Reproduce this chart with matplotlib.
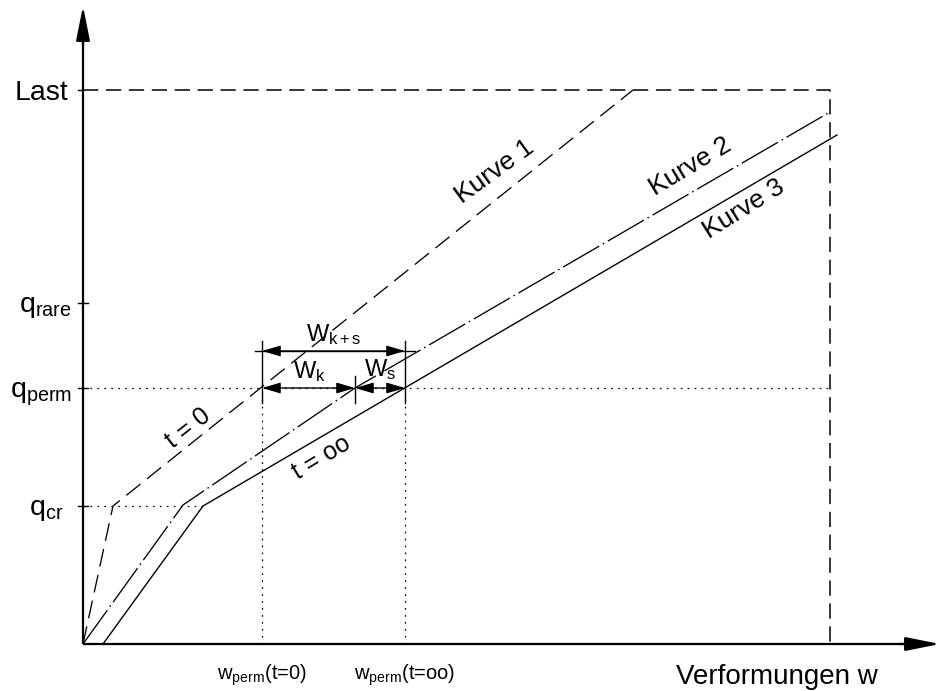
import matplotlib
matplotlib.use("Agg")
import matplotlib.pyplot as plt

plt.rcParams['font.family'] = ['Liberation Sans', 'DejaVu Sans']
plt.rcParams['mathtext.fontset'] = 'custom'
plt.rcParams['mathtext.rm'] = 'Liberation Sans'
plt.rcParams['mathtext.it'] = 'Liberation Sans'
plt.rcParams['lines.scale_dashes'] = False

# ---- data (deformation w, load q) ----
curve1_w = [0, 30, 550]
curve1_q = [0, 138, 554]
curve2_w = [0, 100, 272, 747]
curve2_q = [0, 139, 256, 532]
curve3_w = [20, 120, 754]
curve3_q = [0, 138, 509]

q_levels = [138, 256, 341]
q_labels = ['q_{cr}', 'q_{perm}', 'q_{rare}']
q_last = 554
w_max = 747
w_perm_t0 = 179
w_perm_inf = 322
w_k_end = 272
curve_labels = ['Kurve 1', 'Kurve 2', 'Kurve 3']

fig = plt.figure(figsize=(9.41, 6.91), dpi=100)
ax = fig.add_axes([0, 0, 1, 1])
ax.set_xlim(-83, 858)
ax.set_ylim(-47, 644)
ax.axis('off')

K = 'black'
dash_long = (0, (11, 5.5))
dotted = (0, (1.2, 3.8))

# axes with arrows
ax.plot([0, 835], [0, 0], color=K, lw=1.6, solid_capstyle='butt')
ax.plot([0, 0], [0, 610], color=K, lw=1.6, solid_capstyle='butt')
ax.annotate('', xy=(857, 0), xytext=(815, 0),
            arrowprops=dict(arrowstyle='-|>,head_length=1.4,head_width=0.28',
                            mutation_scale=15, color=K, lw=1.6, shrinkA=0, shrinkB=0))
ax.annotate('', xy=(0, 638), xytext=(0, 598),
            arrowprops=dict(arrowstyle='-|>,head_length=1.4,head_width=0.28',
                            mutation_scale=15, color=K, lw=1.6, shrinkA=0, shrinkB=0))

# Last frame
ax.plot([0, w_max, w_max], [q_last, q_last, 0], color=K, lw=1.1, linestyle=dash_long)
ax.plot([-5, 0], [q_last, q_last], color=K, lw=1.0)

# curves
ax.plot(curve1_w, curve1_q, color=K, lw=0.95, linestyle=(0, (13, 6)))
ax.plot(curve2_w, curve2_q, color=K, lw=0.95, linestyle=(0, (30, 3, 1.2, 3)))
ax.plot(curve3_w, curve3_q, color=K, lw=1.0)

# level ticks / dotted lines
for q in q_levels:
    ax.plot([-5, 5], [q, q], color=K, lw=1.0)
ax.plot([0, curve3_w[1]], [q_levels[0], q_levels[0]], color=K, lw=0.9, linestyle=dotted)
ax.plot([0, w_max], [q_levels[1], q_levels[1]], color=K, lw=0.9, linestyle=dotted)
ax.plot([w_perm_t0, w_perm_t0], [0, q_levels[1]], color=K, lw=0.9, linestyle=dotted)
ax.plot([w_perm_inf, w_perm_inf], [0, q_levels[1]], color=K, lw=0.9, linestyle=dotted)

# extension lines
y_dim = 293
ax.plot([w_perm_t0, w_perm_t0], [q_levels[1] - 15, y_dim + 10], color=K, lw=1.0)
ax.plot([w_perm_inf, w_perm_inf], [q_levels[1] - 15, y_dim + 10], color=K, lw=1.0)
ax.plot([w_k_end, w_k_end], [q_levels[1] - 15, q_levels[1] + 12], color=K, lw=1.0)
ax.plot([w_perm_t0 - 7, w_perm_inf + 10], [y_dim, y_dim], color=K, lw=1.0)

arrow = dict(arrowstyle='<|-|>,head_length=0.75,head_width=0.22',
             mutation_scale=15, color=K, lw=1.0, shrinkA=0, shrinkB=0)
ax.annotate('', xy=(w_perm_t0, y_dim), xytext=(w_perm_inf, y_dim), arrowprops=arrow)
ax.annotate('', xy=(w_perm_t0, q_levels[1]), xytext=(w_k_end, q_levels[1]), arrowprops=arrow)
ax.annotate('', xy=(w_k_end, q_levels[1]), xytext=(w_perm_inf, q_levels[1]), arrowprops=arrow)

# labels on y axis
ax.text(-15, 544, 'Last', fontsize=20.5, ha='right', va='baseline')
q_right = [-20, -11, -11]
for q, lab, xr in zip(q_levels, q_labels, q_right):
    ax.text(xr, q - 9, r'$\mathregular{' + lab + '}$', fontsize=20.5, ha='right', va='baseline')

# curve labels
ax.text(412, 472, curve_labels[0], fontsize=19, rotation=36, ha='center', va='center', rotation_mode='anchor')
ax.text(607, 477, curve_labels[1], fontsize=19, rotation=31, ha='center', va='center', rotation_mode='anchor')
ax.text(661, 435, curve_labels[2], fontsize=19, rotation=32, ha='center', va='center', rotation_mode='anchor')
ax.text(105, 216, 't = 0', fontsize=18, rotation=38, ha='center', va='center', rotation_mode='anchor')
ax.text(239, 186, 't = oo', fontsize=18, rotation=31, ha='center', va='center', rotation_mode='anchor')

# dimension labels
ax.text(251, 309, r'$\mathregular{W_{k+s}}$', fontsize=17, ha='center', va='center')
ax.text(226, 272, r'$\mathregular{W_{k}}$', fontsize=17, ha='center', va='center')
ax.text(297, 274, r'$\mathregular{W_{s}}$', fontsize=17, ha='center', va='center')

# x-axis labels
ax.text(w_perm_t0, -31, r'$\mathregular{w_{perm}}$(t=0)', fontsize=14.5, ha='center', va='center')
ax.text(w_perm_inf, -31, r'$\mathregular{w_{perm}}$(t=oo)', fontsize=14.5, ha='center', va='center')
ax.text(593, -40, 'Verformungen w', fontsize=20, ha='left', va='baseline')

fig.savefig('out.png', dpi=100)
